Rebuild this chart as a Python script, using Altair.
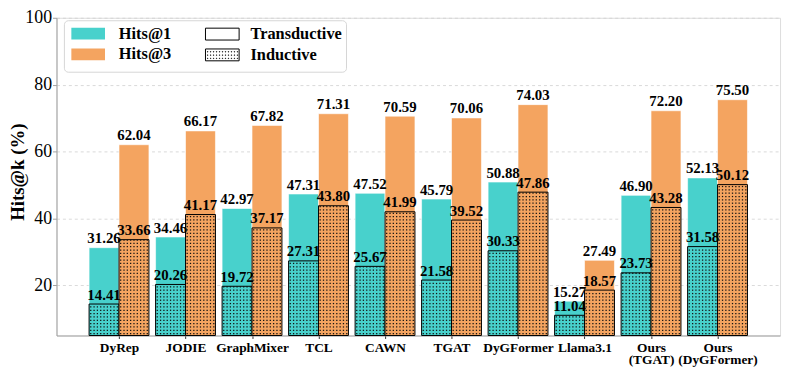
import json
import altair as alt
import pandas as pd

models = ["DyRep", "JODIE", "GraphMixer", "TCL", "CAWN", "TGAT", "DyGFormer",
          "Llama3.1", "Ours|(TGAT)", "Ours|(DyGFormer)"]
series = ["Hits@1", "Hits@3"]
h1_trans = [31.26, 34.46, 42.97, 47.31, 47.52, 45.79, 50.88, 15.27, 46.90, 52.13]
h1_ind = [14.41, 20.26, 19.72, 27.31, 25.67, 21.58, 30.33, 11.04, 23.73, 31.58]
h3_trans = [62.04, 66.17, 67.82, 71.31, 70.59, 70.06, 74.03, 27.49, 72.20, 75.50]
h3_ind = [33.66, 41.17, 37.17, 43.80, 41.99, 39.52, 47.86, 18.57, 43.28, 50.12]
settings = ["Transductive", "Inductive"]
colors = ["#48D1CC", "#F4A460"]

rows = []
for i in range(len(models)):
    rows.append({"idx": i, "series": series[0], "trans": h1_trans[i], "ind": h1_ind[i]})
    rows.append({"idx": i, "series": series[1], "trans": h3_trans[i], "ind": h3_ind[i]})
df = pd.DataFrame(rows)

SERIF = "Liberation Serif"
W = 0.45
BASE = 5
PH = 321

x_scale = alt.Scale(domain=[-0.94, 9.94], nice=False, zero=False)
y_scale = alt.Scale(domain=[BASE, 100], nice=False, zero=False)

label_expr = "split(" + json.dumps(models) + "[round(datum.value)], '|')"
x_axis = alt.Axis(values=list(range(len(models))), labelExpr=label_expr, title=None,
                  grid=False, labelFont=SERIF, labelFontWeight="bold", labelFontSize=13.5,
                  labelLineHeight=12.5, labelColor="black", tickSize=3, tickColor="#333",
                  domainColor="#a0a0a0", labelPadding=2, labelBaseline="top")
y_axis = alt.Axis(values=[20, 40, 60, 80, 100], title="Hits@k (%)", titleFont=SERIF,
                  titleFontWeight="bold", titleFontSize=19, titleColor="black",
                  titleX=-39, titleY=PH / 2 - 5, titleBaseline="middle", titleAngle=270,
                  labelFont=SERIF, labelFontSize=18, labelColor="black", labelPadding=1,
                  tickSize=4, tickColor="#a0a0a0", domainColor="#a0a0a0", grid=True,
                  gridDash=[3, 3], gridColor="#d0d0d0", gridWidth=0.8)

rect_path = "M-1.545,-0.545H1.545V0.545H-1.545Z"
dots = []
for r in range(3):
    for c in range(11):
        x = -1.364 + 0.273 * c
        y = -0.3 + 0.3 * r
        dots.append(f"M{x:.3f},{y:.3f}h0.04v0.04h-0.04Z")
dot_path = rect_path + "".join(dots)

color_enc = alt.Color("series:N", scale=alt.Scale(domain=series, range=colors),
                      legend=alt.Legend(title=None, orient="none", legendX=21, legendY=5,
                                        symbolType=rect_path, symbolSize=484, symbolStrokeWidth=0,
                                        symbolOpacity=1, labelFont=SERIF, labelFontWeight="bold",
                                        labelFontSize=16.5, labelColor="black", labelOffset=20,
                                        rowPadding=1, padding=0))

base = alt.Chart(df).transform_calculate(
    x0=f"datum.idx + (datum.series == '{series[0]}' ? {-W} : 0)"
).transform_calculate(
    x1=f"datum.x0 + {W}", xc=f"datum.x0 + {W / 2}"
)

box = alt.Chart(alt.Data(values=[{}])).mark_rect(
    fill="white", stroke="#d6d6d6", strokeWidth=1, cornerRadius=4
).encode(x=alt.value(8), x2=alt.value(293), y=alt.value(3), y2=alt.value(55))

trans = base.mark_bar(stroke="white", strokeWidth=0.6).encode(
    x=alt.X("x0:Q", scale=x_scale, axis=x_axis), x2="x1:Q",
    y=alt.Y("trans:Q", scale=y_scale, axis=y_axis), y2=alt.datum(BASE),
    color=color_enc,
)
ind = base.mark_bar(stroke="black", strokeWidth=1).encode(
    x=alt.X("x0:Q", scale=x_scale), x2="x1:Q",
    y=alt.Y("ind:Q", scale=y_scale), y2=alt.datum(BASE),
    color=alt.Color("series:N", scale=alt.Scale(domain=series, range=colors)),
)
dot_layer = base.transform_calculate(nx="sequence(0, 9)").transform_flatten(["nx"]).transform_calculate(
    ny=f"sequence(0, ceil(datum.ind - {BASE} - 0.6))"
).transform_flatten(["ny"]).transform_calculate(
    px="datum.x0 + 0.025 + datum.nx * 0.05", py=f"{BASE} + 0.55 + datum.ny * 1.0"
).mark_square(size=1.6, color="#111111", opacity=1).encode(
    x=alt.X("px:Q", scale=x_scale), y=alt.Y("py:Q", scale=y_scale)
)
text_t = base.mark_text(font=SERIF, fontWeight="bold", fontSize=15, baseline="alphabetic",
                        dy=-4.5, color="black").encode(
    x=alt.X("xc:Q", scale=x_scale), y=alt.Y("trans:Q", scale=y_scale),
    text=alt.Text("trans:Q", format=".2f"))
text_i = base.mark_text(font=SERIF, fontWeight="bold", fontSize=15, baseline="alphabetic",
                        dy=-4.5, color="black").encode(
    x=alt.X("xc:Q", scale=x_scale), y=alt.Y("ind:Q", scale=y_scale),
    text=alt.Text("ind:Q", format=".2f"))

shape_layer = alt.Chart(pd.DataFrame({"kind": settings})).mark_point(
    filled=False, color="black", stroke="black", strokeWidth=1.0, opacity=1
).encode(
    x=alt.value(-300), y=alt.value(-300),
    shape=alt.Shape("kind:N", scale=alt.Scale(domain=settings, range=[rect_path, dot_path]),
                    legend=alt.Legend(title=None, orient="none", legendX=156, legendY=5,
                                      symbolSize=484, symbolStrokeColor="black",
                                      symbolStrokeWidth=1.0, symbolOpacity=1,
                                      labelFont=SERIF, labelFontWeight="bold",
                                      labelFontSize=16.5, labelColor="black", labelOffset=17,
                                      rowPadding=1, padding=0))
)

chart = alt.layer(box, trans, ind, dot_layer, text_t, text_i, shape_layer).properties(
    width=731, height=PH, autosize=alt.AutoSizeParams(type="none"),
    padding={"left": 49, "top": 8, "right": 5, "bottom": 35},
).resolve_scale(color="shared").configure_view(
    stroke="#a0a0a0", strokeWidth=1.2
).configure(font=SERIF).configure_axis(labelFont=SERIF, titleFont=SERIF)

chart.save("out.html", embed_options={"renderer": "svg", "actions": False})
